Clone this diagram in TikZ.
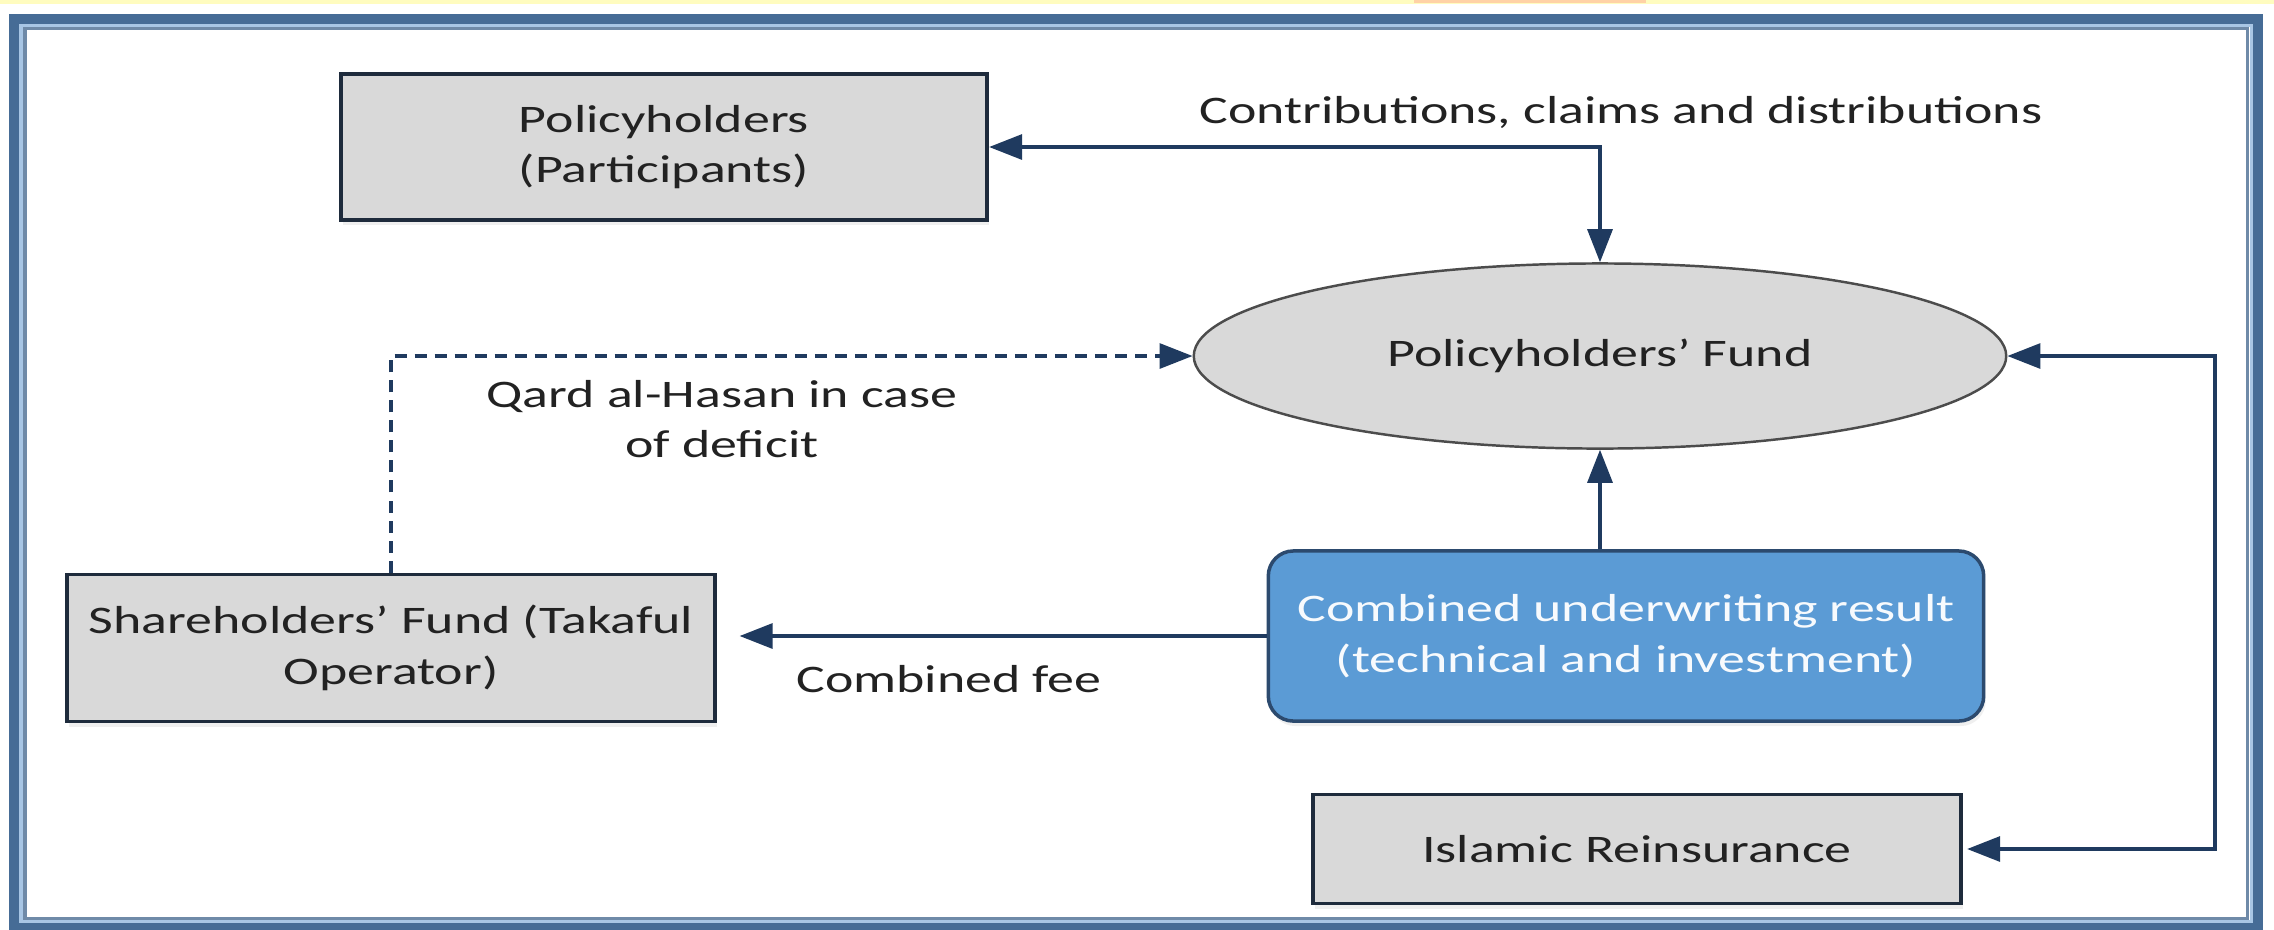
\documentclass[tikz,border=0pt]{standalone}
\usepackage{fontspec}
\setmainfont{Carlito}[FakeStretch=1.38]
\usetikzlibrary{arrows.meta,shapes.geometric,shadows}

\definecolor{frameblue}{HTML}{466C96}
\definecolor{framelight}{HTML}{A8C6E5}
\definecolor{frameinner}{HTML}{6F8AA8}
\definecolor{boxgray}{HTML}{D9D9D9}
\definecolor{boxline}{HTML}{1E2B3C}
\definecolor{arrowblue}{HTML}{1F3A5F}
\definecolor{resultblue}{HTML}{5B9BD5}
\definecolor{resultline}{HTML}{2C4A6E}
\definecolor{inktext}{HTML}{222222}

\tikzset{
  every node/.style={font=\fontsize{11.1pt}{14.4pt}\selectfont, text=inktext},
  graybox/.style={draw=boxline, line width=1.1pt, fill=boxgray, align=center,
    inner sep=0pt, drop shadow={shadow xshift=0.02cm, shadow yshift=-0.05cm, opacity=0.12}},
  fundshape/.style={ellipse, draw=black!70, line width=0.7pt, fill=boxgray,
    inner sep=0pt, minimum width=8.12cm, minimum height=1.85cm},
  resultbox/.style={draw=resultline, line width=1pt, fill=resultblue, rounded corners=0.25cm,
    align=center, inner sep=0pt, text=white!95!resultblue,
    drop shadow={shadow xshift=0.02cm, shadow yshift=-0.05cm, opacity=0.12}},
  flow/.style={draw=arrowblue, line width=0.9pt,
    -{Triangle[length=0.33cm,width=0.25cm]}},
  twoway/.style={draw=arrowblue, line width=0.9pt,
    {Triangle[length=0.33cm,width=0.25cm]}-{Triangle[length=0.33cm,width=0.25cm]}},
  flowlabel/.style={align=center, inner sep=0pt}
}

\begin{document}
\begin{tikzpicture}[x=0.01cm,y=-0.01cm]
  \useasboundingbox (0,0) rectangle (2274,929);
  \fill[white] (0,0) rectangle (2274,929);

  % thin coloured strip along the top edge
  \fill[yellow!25] (0,0) rectangle (2274,4);
  \fill[orange!35] (1414,0) rectangle (1646,3);

  % double frame
  \draw[frameblue, line width=0.1cm] (14,19) rectangle (2258,927);
  \draw[framelight, line width=0.03cm] (21,25) rectangle (2251,921);
  \draw[frameinner, line width=0.03cm] (25,28) rectangle (2247,918);

  % nodes
  \node[graybox, minimum width=6.46cm, minimum height=1.46cm] (pol) at (664,147)
    {Policyholders\\(Participants)};
  \node[fundshape] (fund) at (1600,356) {Policyholders’ Fund};
  \node[resultbox, minimum width=7.15cm, minimum height=1.70cm] (res) at (1626,636)
    {Combined underwriting result\\(technical and investment)};
  \node[graybox, minimum width=6.47cm, minimum height=1.47cm] (sh) at (391,648)
    {Shareholders’ Fund (Takaful\\Operator)};
  \node[graybox, minimum width=6.48cm, minimum height=1.09cm] (rein) at (1637,849)
    {Islamic Reinsurance};

  % labels
  \node[flowlabel] (lcontrib) at (1621,112) {Contributions, claims and distributions};
  \node[flowlabel] (lqard) at (722,419) {Qard al-Hasan in case\\of deficit};
  \node[flowlabel] (lfee) at (949,679) {Combined fee};

  % connectors
  \draw[twoway] (pol.east) -| (fund.north);
  \coordinate (rturn) at (2215,356);
  \draw[twoway, shorten >=0.04cm] (fund.east) -- (rturn) |- (rein.east);
  \draw[flow] (fund.south |- res.north) -- (fund.south);
  \draw[flow, shorten >=0.23cm] (res.west) -- (res.west -| sh.east);
  \draw[flow, dash pattern=on 0.12cm off 0.08cm] (sh.north) |- (fund.west);
\end{tikzpicture}
\end{document}
